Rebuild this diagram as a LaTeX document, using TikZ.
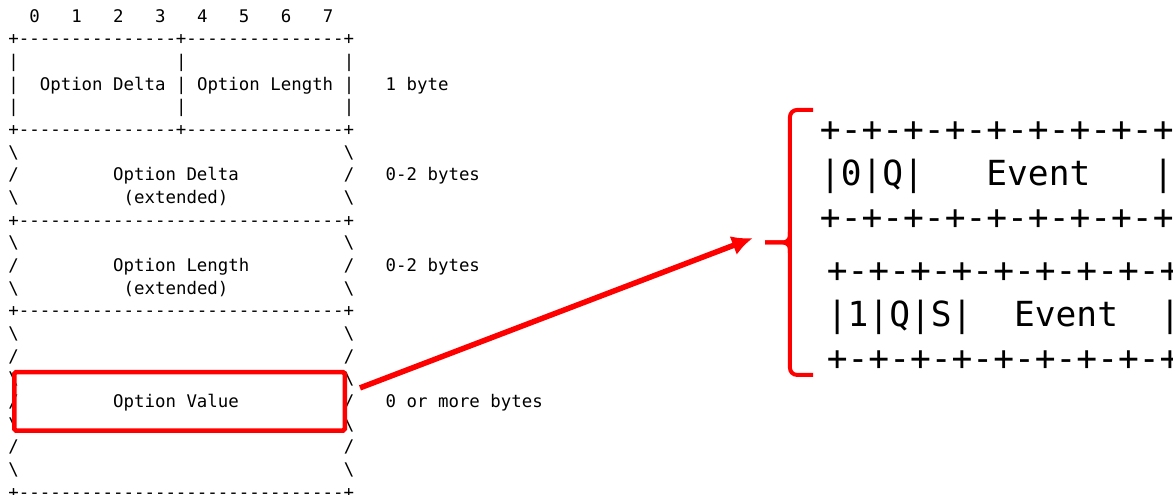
\documentclass[tikz,border=0pt]{standalone}
\usepackage{fontspec}
\setmonofont{DejaVu Sans Mono}
\usetikzlibrary{arrows.meta}

\begin{document}
\begin{tikzpicture}[x=2.096mm,y=-4.533mm,>={Latex[length=4.2mm,width=4mm]},
  asc/.style={font=\ttfamily\fontsize{9.9}{11}\selectfont,inner sep=0pt,anchor=base west},
  big/.style={font=\ttfamily\fontsize{19.66}{22}\selectfont,inner sep=0pt,anchor=base west},
  hilite/.style={draw=red,line width=0.9mm,rounded corners=1pt,minimum width=6.61cm,minimum height=1.17cm},
  bracket/.style={draw=red,line width=0.8mm,rounded corners=4pt}]
  \path[fill=white,use as bounding box] (-0.769,-0.979) rectangle (111.16,20.856);

  \foreach \b in {0,...,7}
    \node[asc] (bit\b) at ({2+4*\b},0) {\b};
  \node[asc] (rule1) at (0,1) {+---------------+---------------+};
  \foreach \r in {2,3,4}
    \foreach \c in {0,16,32}
      \node[asc] (bar\r-\c) at (\c,\r) {|};
  \node[asc] (delta) at (3,3) {Option Delta};
  \node[asc] (length) at (18,3) {Option Length};
  \node[asc] (size1) at (36,3) {1 byte};
  \node[asc] (rule2) at (0,5) {+---------------+---------------+};
  \foreach \r in {6,7,8,10,11,12,14,15,16,17,18,19,20}
    \foreach \c in {0,32}
      \node[asc] (side\r-\c) at (\c,\r) {\ifodd\r /\else\textbackslash\fi};
  \node[asc] (xdelta) at (10,7) {Option Delta};
  \node[asc] (xdeltaext) at (11,8) {(extended)};
  \node[asc] (size2) at (36,7) {0-2 bytes};
  \node[asc] (rule3) at (0,9) {+-------------------------------+};
  \node[asc] (xlength) at (10,11) {Option Length};
  \node[asc] (xlengthext) at (11,12) {(extended)};
  \node[asc] (size3) at (36,11) {0-2 bytes};
  \node[asc] (rule4) at (0,13) {+-------------------------------+};
  \node[asc] (value) at (10,17) {Option Value};
  \node[asc] (size4) at (36,17) {0 or more bytes};
  \node[asc] (rule5) at (0,21) {+-------------------------------+};

  \node[hilite] (valuebox) at (16.36,16.73) {};

  \node[big] (hdrA0) at (77.44,5.284) {+-+-+-+-+-+-+-+-+};
  \node[big] (hdrA1) at (77.44,7.225) {|0|Q|~~~Event~~~|};
  \node[big] (hdrA2) at (77.44,9.166) {+-+-+-+-+-+-+-+-+};
  \node[big] (hdrB0) at (78.1,11.504) {+-+-+-+-+-+-+-+-+};
  \node[big] (hdrB1) at (78.1,13.445) {|1|Q|S|~~Event~~|};
  \node[big] (hdrB2) at (78.1,15.386) {+-+-+-+-+-+-+-+-+};

  \coordinate (brtip) at (72.23,9.718);
  \draw[bracket] (76.81,3.873) -| (74.61,15.562) -- (76.81,15.562);
  \draw[bracket] (74.61,9.254) |- (brtip);
  \draw[bracket] (74.61,10.181) |- (brtip);

  \coordinate (zoomin) at (71.08,9.519);
  \draw[->,red,line width=1.1mm] ([xshift=2.6mm,yshift=2.7mm]valuebox.east) -- (zoomin);
\end{tikzpicture}
\end{document}
